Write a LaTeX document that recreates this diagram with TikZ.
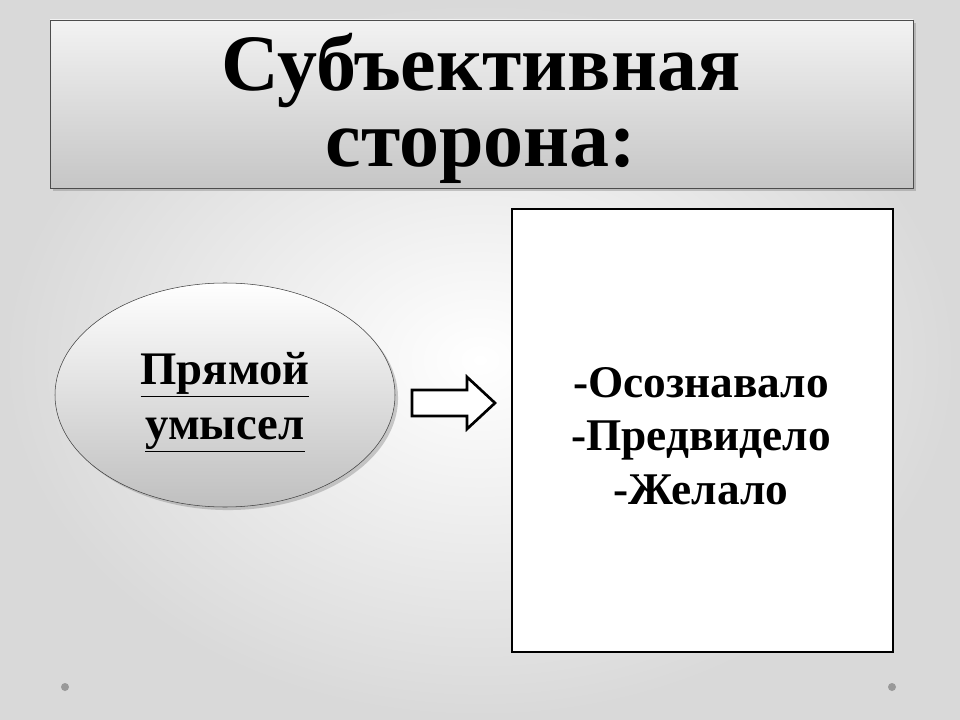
\documentclass[tikz,border=0pt]{standalone}
\usepackage{fontspec}
\setmainfont{Liberation Serif}
\usetikzlibrary{shadows,shapes.geometric}
\begin{document}
\begin{tikzpicture}[x=0.75pt,y=-0.75pt,
  dot/.style={circle,fill=gray!80,inner sep=0pt,minimum size=6pt},
  txt/.style={font=\bfseries\fontsize{34}{40}\selectfont,align=center}]
\useasboundingbox (0,0) rectangle (960,720);
\shade[inner color=white,outer color=gray!30] (0,0) rectangle (960,720);
\node[dot] (d1) at (65,687) {};
\node[dot] (d2) at (892,687) {};
\shade[top color=gray!10,bottom color=gray!45,draw=gray!60!black,drop shadow={opacity=0.4}] (50,20) rectangle (913,188);
\draw[gray!60!black] (50,20) rectangle (913,188);
\node[font=\bfseries\fontsize{60}{57}\selectfont,align=center] (title) at (481,108) {Субъективная\\сторона:};
\node[ellipse,minimum width=255pt,minimum height=168pt,draw=gray!50!black,top color=white,bottom color=gray!50,drop shadow={opacity=0.4}] (ell) at (225,395) {};
\node[txt,font=\bfseries\fontsize{35}{41}\selectfont] (lbl) at (225,402) {\underline{Прямой}\\\underline{умысел}};
\draw[line width=2pt,fill=white] (412,390) -- (467,390) -- (467,377) -- (495,403) -- (467,429) -- (467,416) -- (412,416) -- cycle;
\node[draw,line width=1.5pt,fill=white,minimum width=285.75pt,minimum height=332.25pt,anchor=north west] (box) at (511,208) {};
\node[txt] (items) at (701,436) {-Осознавало\\-Предвидело\\-Желало};
\end{tikzpicture}
\end{document}
